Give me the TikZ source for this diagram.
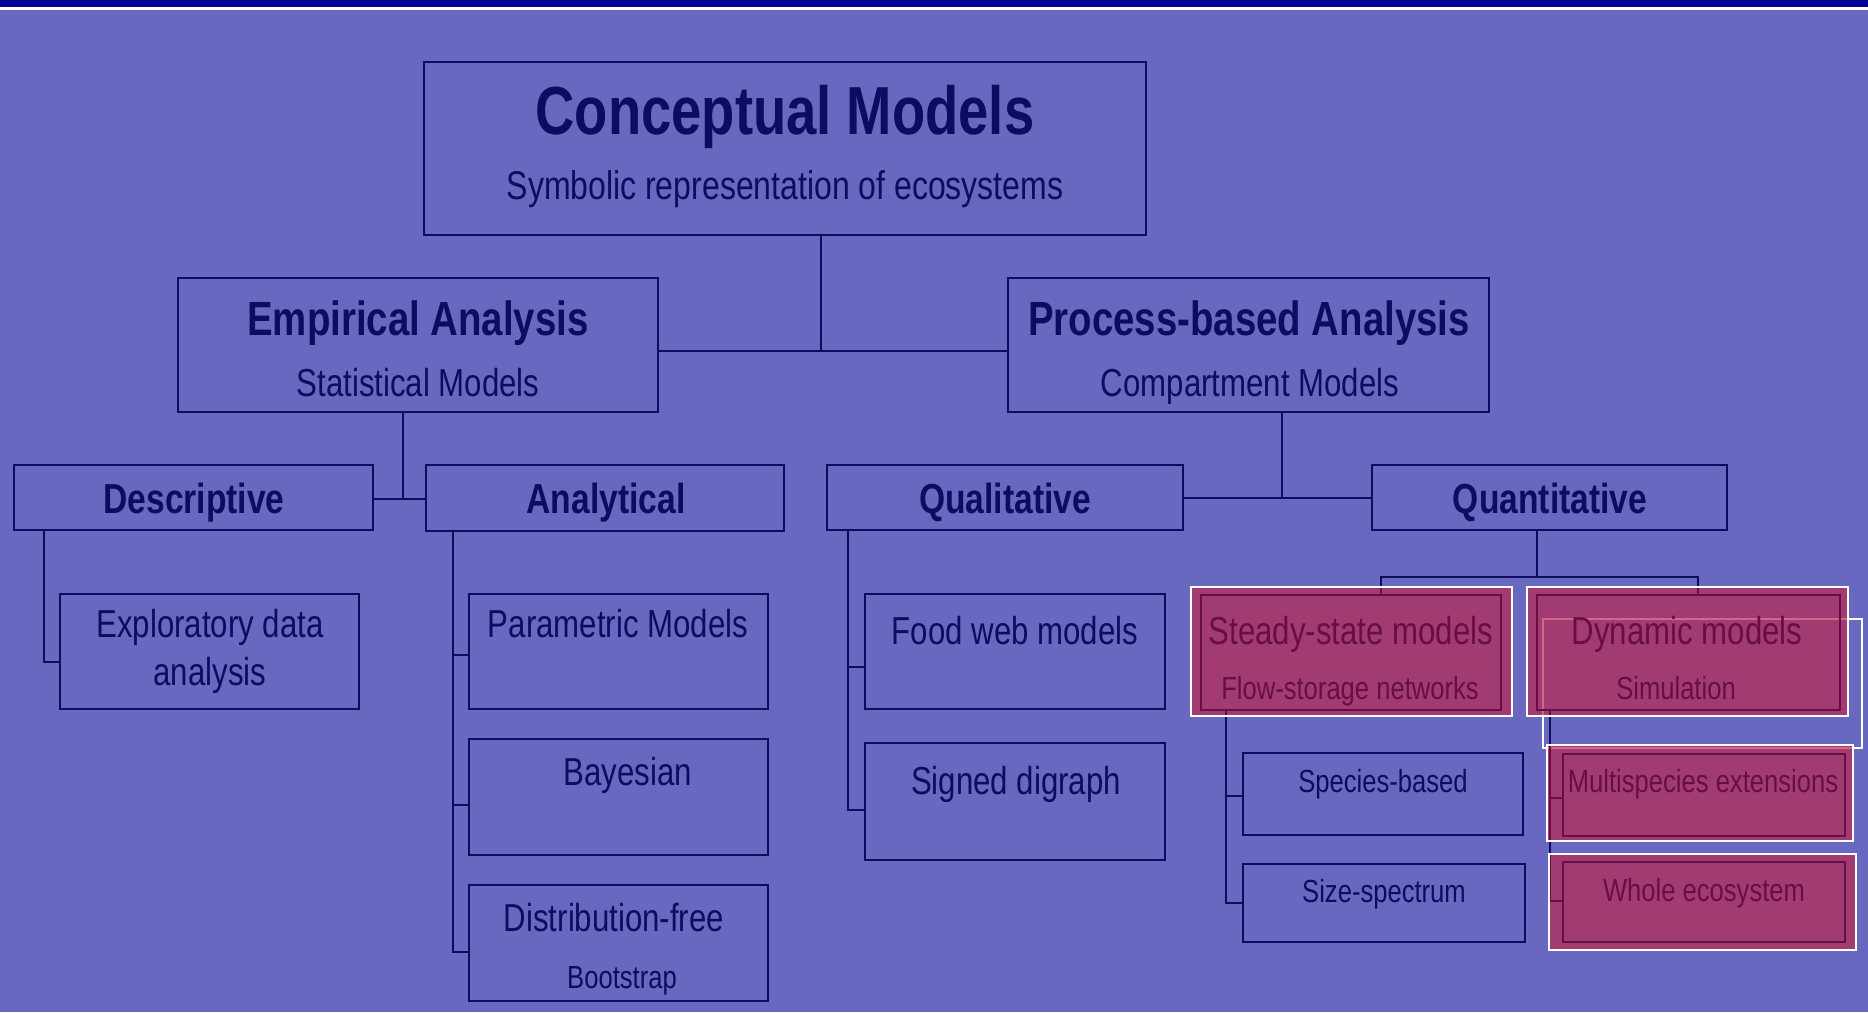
\documentclass[tikz,border=0pt]{standalone}
\usepackage{fontspec}
\setmainfont{Liberation Sans}[FakeStretch=0.8]
\definecolor{bg}{HTML}{6868C0}
\definecolor{navy}{HTML}{0C0C60}
\definecolor{topbar}{HTML}{000099}
\definecolor{hlfill}{RGB}{189,40,83}
\definecolor{dred}{HTML}{680E46}
\tikzset{
  box/.style={draw=navy, line width=2.6pt, inner sep=0pt, outer sep=0pt, anchor=north west, rectangle},
  ghost/.style={inner sep=0pt, outer sep=0pt, anchor=north west, rectangle},
  conn/.style={line width=2.2pt},
  txt/.style={inner sep=0pt, outer sep=0pt, anchor=base, text=navy},
  ttl/.style={txt, font=\fontsize{68}{80}\selectfont\bfseries},
  sub/.style={txt, font=\fontsize{40}{48}\selectfont},
  hd/.style={txt, font=\fontsize{48}{58}\selectfont\bfseries},
  lv/.style={txt, font=\fontsize{42}{50}\selectfont\bfseries},
  ch/.style={txt, font=\fontsize{39}{47}\selectfont},
  sm/.style={txt, font=\fontsize{32}{40}\selectfont},
  hch/.style={ch, text=dred},
  hsm/.style={sm, text=dred},
  hlbox/.style={draw=dred, line width=2.6pt}
}
\newcommand\allconnectors[1]{%
  \draw[conn, draw=#1] (A.south -| j1) -- (j1);
  \draw[conn, draw=#1] (B.east |- j1) -- (C.west |- j1);
  \draw[conn, draw=#1] (B.south -| j2) -- (j2);
  \draw[conn, draw=#1] (D.east |- j2) -- (E.west |- j2);
  \draw[conn, draw=#1] (C.south -| j3) -- (j3);
  \draw[conn, draw=#1] (F.east |- j3) -- (G.west |- j3);
  \draw[conn, draw=#1] (D.south -| j4) -- (j4) -- (H.west |- j4);
  \draw[conn, draw=#1] (E.south -| e1) -- (e3) -- (K.west |- e3);
  \draw[conn, draw=#1] (e1) -- (I.west |- e1);
  \draw[conn, draw=#1] (e2) -- (J.west |- e2);
  \draw[conn, draw=#1] (F.south -| f1) -- (f2) -- (M.west |- f2);
  \draw[conn, draw=#1] (f1) -- (L.west |- f1);
  \draw[conn, draw=#1] (G.south -| g1) -- (g1);
  \draw[conn, draw=#1] (N.north -| g2) -- (g2) -- (g3) -- (O.north -| g3);
  \draw[conn, draw=#1] (N.south -| n1) -- (n2) -- (Q.west |- n2);
  \draw[conn, draw=#1] (n1) -- (P.west |- n1);
  \draw[conn, draw=#1] (O.south -| o1) -- (o2) -- (S.west |- o2);
  \draw[conn, draw=#1] (o1) -- (R.west |- o1);
}
\begin{document}
\begin{tikzpicture}[x=1pt,y=-1pt]
\fill[bg] (0,0) rectangle (1868,1012);
\useasboundingbox (0,0) rectangle (1868,1012);
\fill[topbar] (0,0) rectangle (1868,7);
\fill[white] (0,7) rectangle (1868,9.5);

% boxes
\node[box, minimum width=722pt, minimum height=173pt] (A) at (424,62) {};
\node[box, minimum width=480pt, minimum height=134pt] (B) at (178,278) {};
\node[box, minimum width=481pt, minimum height=134pt] (C) at (1008,278) {};
\node[box, minimum width=359pt, minimum height=65pt] (D) at (14,465) {};
\node[box, minimum width=358pt, minimum height=66pt] (E) at (426,465) {};
\node[box, minimum width=356pt, minimum height=65pt] (F) at (827,465) {};
\node[box, minimum width=355pt, minimum height=65pt] (G) at (1372,465) {};
\node[box, minimum width=299pt, minimum height=115pt] (H) at (60,594) {};
\node[box, minimum width=299pt, minimum height=115pt] (I) at (469,594) {};
\node[box, minimum width=299pt, minimum height=116pt] (J) at (469,739) {};
\node[box, minimum width=299pt, minimum height=116pt] (K) at (469,885) {};
\node[box, minimum width=300pt, minimum height=115pt] (L) at (865,594) {};
\node[box, minimum width=300pt, minimum height=117pt] (M) at (865,743) {};
\node[box, minimum width=280pt, minimum height=82pt] (P) at (1243,753) {};
\node[box, minimum width=282pt, minimum height=78pt] (Q) at (1243,864) {};
% highlighted inner boxes (drawn later)
\node[ghost, minimum width=300pt, minimum height=115pt] (N) at (1201,595) {};
\node[ghost, minimum width=303pt, minimum height=115pt] (O) at (1537,595) {};
\node[ghost, minimum width=282pt, minimum height=82pt] (R) at (1563,754) {};
\node[ghost, minimum width=282pt, minimum height=80pt] (S) at (1563,862) {};
% highlight frames
\node[ghost, minimum width=321pt, minimum height=129pt] (NH) at (1191,587) {};
\node[ghost, minimum width=321pt, minimum height=129pt] (OH) at (1527,587) {};
\node[ghost, minimum width=306pt, minimum height=96pt] (RH) at (1547,745) {};
\node[ghost, minimum width=307pt, minimum height=96pt] (SH) at (1549,854) {};

% junctions
\coordinate (j1) at (821,351);
\coordinate (j2) at (403,499);
\coordinate (j3) at (1282,498);
\coordinate (j4) at (44,662);
\coordinate (e1) at (453,655);
\coordinate (e2) at (453,805);
\coordinate (e3) at (453,952);
\coordinate (f1) at (848,667);
\coordinate (f2) at (848,810);
\coordinate (g1) at (1537,577);
\coordinate (g2) at (1381,577);
\coordinate (g3) at (1698,577);
\coordinate (n1) at (1226,796);
\coordinate (n2) at (1226,903);
\coordinate (o1) at (1550,798);
\coordinate (o2) at (1550,901);

\allconnectors{navy}

% texts
\node[ttl] (tA1) at (785,134) {Conceptual Models};
\node[sub] (tA2) at (785,199) {Symbolic representation of ecosystems};
\node[hd] (tB1) at (418,335) {Empirical Analysis};
\node[ch] (tB2) at (418,396) {Statistical Models};
\node[hd] (tC1) at (1249,335) {Process-based Analysis};
\node[ch] (tC2) at (1250,396) {Compartment Models};
\node[lv] (tD) at (194,513) {Descriptive};
\node[lv] (tE) at (606,513) {Analytical};
\node[lv] (tF) at (1005,513) {Qualitative};
\node[lv] (tG) at (1550,513) {Quantitative};
\node[ch] (tH1) at (210,637) {Exploratory data};
\node[ch] (tH2) at (210,685) {analysis};
\node[ch] (tI) at (618,637) {Parametric Models};
\node[ch] (tJ) at (628,785) {Bayesian};
\node[ch] (tK1) at (614,931) {Distribution-free};
\node[sm] (tK2) at (622,988) {Bootstrap};
\node[ch] (tL) at (1015,644) {Food web models};
\node[ch] (tM) at (1016,794) {Signed digraph};
\node[sm] (tP) at (1383,792) {Species-based};
\node[sm] (tQ) at (1384,902) {Size-spectrum};

% offset white frame
\node[ghost, draw=white, line width=2.4pt, minimum width=319pt, minimum height=129pt] (OX) at (1543,619) {};

% highlight fills
\fill[hlfill, opacity=0.7] (NH.north west) rectangle (NH.south east);
\fill[hlfill, opacity=0.7] (OH.north west) rectangle (OH.south east);
\fill[hlfill, opacity=0.7] (RH.north west) rectangle (RH.south east);
\fill[hlfill, opacity=0.7] (SH.north west) rectangle (SH.south east);

\begin{scope}
  \clip (NH.north west) rectangle (NH.south east)
        (OH.north west) rectangle (OH.south east)
        (RH.north west) rectangle (RH.south east)
        (SH.north west) rectangle (SH.south east);
  \allconnectors{dred}
\end{scope}

\draw[hlbox] (N.north west) rectangle (N.south east);
\draw[hlbox] (O.north west) rectangle (O.south east);
\draw[hlbox] (R.north west) rectangle (R.south east);
\draw[hlbox] (S.north west) rectangle (S.south east);

\node[hch] (tN1) at (1351,644) {Steady-state models};
\node[hsm] (tN2) at (1350,699) {Flow-storage networks};
\node[hch] (tO1) at (1687,644) {Dynamic models};
\node[hsm] (tO2) at (1676,699) {Simulation};
\node[hsm] (tR) at (1703,792) {Multispecies extensions};
\node[hsm] (tS) at (1704,901) {Whole ecosystem};

\draw[white, line width=2.4pt] (NH.north west) rectangle (NH.south east);
\draw[white, line width=2.4pt] (OH.north west) rectangle (OH.south east);
\draw[white, line width=2.4pt] (RH.north west) rectangle (RH.south east);
\draw[white, line width=2.4pt] (SH.north west) rectangle (SH.south east);
\end{tikzpicture}
\end{document}
